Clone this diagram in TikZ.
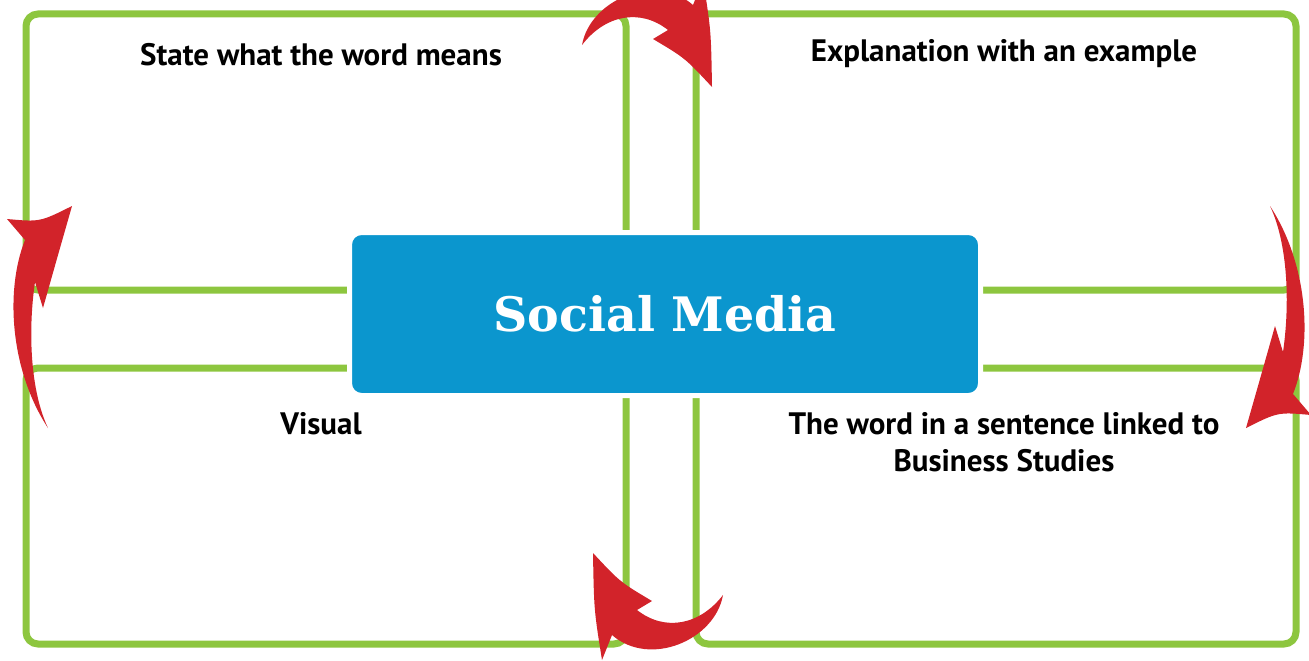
\documentclass[tikz,border=0pt]{standalone}
\usepackage{fontspec}
\setmainfont{PT Sans}
\newfontfamily\slabfont{DejaVu Serif}
\usetikzlibrary{positioning}
\definecolor{panelgreen}{RGB}{141,198,63}
\definecolor{hubblue}{RGB}{11,150,206}
\definecolor{cyclered}{RGB}{210,35,42}
% outlines of the two arrow shapes (left one and bottom one)
\newcommand{\sidearrowpath}{(48,428) .. controls (10,370) and (5,290) .. (25,240) -- (7,219)
  .. controls (40,222) .. (72,206) .. controls (58,255) .. (43,308) -- (35,282)
  .. controls (28,330) and (30,390) .. (48,428) -- cycle}
\newcommand{\turnarrowpath}{(723,595) .. controls (700,625) and (665,632) .. (637,610) -- (652,601)
  .. controls (620,582) .. (593,553) .. controls (594,610) .. (602,660) -- (612,635)
  .. controls (650,668) and (715,640) .. (723,595) -- cycle}
\begin{document}
\begin{tikzpicture}[x=1pt, y=-1pt,
    panel/.style = {draw=panelgreen, line width=7pt, rounded corners=12pt, minimum width=600pt, minimum height=276pt, inner sep=0pt},
    caption/.style = {font=\fontsize{31}{37.5}\selectfont\bfseries, align=center},
    hub/.style = {fill=hubblue, draw=white, line width=5pt, rounded corners=12pt, minimum width=631pt, minimum height=163pt, text=white, font=\slabfont\bfseries\fontsize{47.5}{52}\selectfont},
    cyclearrow/.style = {fill=cyclered}]
    \useasboundingbox (0,0) rectangle (1309,661);
    \node[panel] (what) at (326,152) {};
    \node[panel] (example) at (996,152) {};
    \node[panel] (visual) at (326,506) {};
    \node[panel] (sentence) at (996,506) {};
    \node[caption] (whattext) at (321,55) {State what the word means};
    \node[caption] (exampletext) at (1004,54) {Explanation with an example};
    \node[caption] (visualtext) at (321,424) {Visual};
    \node[caption] (sentencetext) at (1004,442) {The word in a sentence linked to\\Business Studies};
    \node[hub] (topic) at (665,314) {Social Media};
    % cycle arrows
    \fill[cyclearrow] \sidearrowpath;
    \fill[cyclearrow, rotate around={180:(659,317)}] \sidearrowpath;
    \fill[cyclearrow] \turnarrowpath;
    \fill[cyclearrow, rotate around={180:(652.5,320)}] \turnarrowpath;
\end{tikzpicture}
\end{document}
